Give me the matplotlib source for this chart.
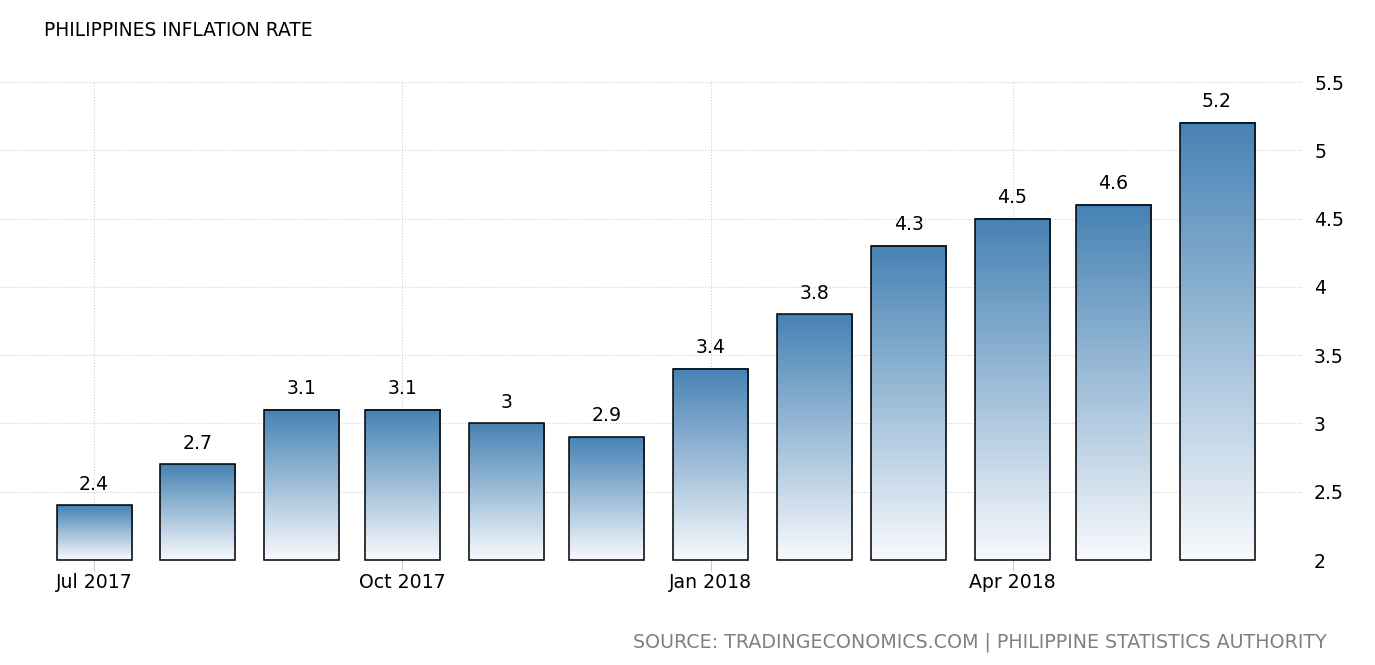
import matplotlib
matplotlib.use("Agg")
import matplotlib.pyplot as plt
import matplotlib.dates as mdates
import numpy as np
import pandas as pd

plt.rcParams['font.family'] = ['DejaVu Sans']

months = pd.date_range("2017-07-01", "2018-06-01", freq="MS")
values = [2.4, 2.7, 3.1, 3.1, 3, 2.9, 3.4, 3.8, 4.3, 4.5, 4.6, 5.2]
labels = ["2.4", "2.7", "3.1", "3.1", "3", "2.9", "3.4", "3.8", "4.3", "4.5", "4.6", "5.2"]
yticks = [2, 2.5, 3, 3.5, 4, 4.5, 5, 5.5]
ytick_labels = ["2", "2.5", "3", "3.5", "4", "4.5", "5", "5.5"]
xticks = pd.to_datetime(["2017-07-01", "2017-10-01", "2018-01-01", "2018-04-01"])
xtick_labels = ["Jul 2017", "Oct 2017", "Jan 2018", "Apr 2018"]

fig = plt.figure(figsize=(13.75, 6.65), dpi=100)
ax = fig.add_axes([0, 1 - 560 / 665, 1303 / 1375, (560 - 82) / 665])

x = mdates.date2num(months)
x0 = mdates.date2num(pd.Timestamp("2017-07-01"))
days_per_px = 335 / (1217 - 94)
bar_w = 75 * days_per_px

ax.grid(True, color="#cfcfcf", linestyle=(0, (1, 1.6)), linewidth=0.8)
ax.set_axisbelow(True)

# steelblue -> white gradient for each bar
cmap = matplotlib.colors.LinearSegmentedColormap.from_list("tebar", ["#4682b4", "#f8fafd"])
grad = np.linspace(0, 1, 256).reshape(-1, 1)
heights = [v - 2 for v in values]
ax.bar(x, heights, bottom=2, width=bar_w, facecolor="none", edgecolor="black", linewidth=1.1, zorder=4, clip_on=False)
for d, v, lab in zip(x, values, labels):
    ax.imshow(grad, cmap=cmap, aspect="auto", zorder=3,
              extent=[d - bar_w / 2, d + bar_w / 2, 2, v], origin="upper")
    ax.text(d, v + 0.085, lab, ha="center", va="bottom", fontsize=13.6, color="black", zorder=5)
ax.set_xlim(x0 - 94 * days_per_px, x0 + (1303 - 94) * days_per_px)
ax.set_ylim(2, 5.5)

ax.set_xticks(mdates.date2num(xticks))
ax.set_xticklabels(xtick_labels, fontsize=13.6)
ax.yaxis.tick_right()
ax.set_yticks(yticks)
ax.set_yticklabels(ytick_labels, fontsize=13.6)
ax.tick_params(axis="x", length=8, width=0.8, color="#cccccc", pad=1)
ax.tick_params(axis="y", length=0, pad=8)
for s in ax.spines.values():
    s.set_visible(False)

fig.text(44 / 1375, 1 - 31 / 665, "PHILIPPINES INFLATION RATE", fontsize=13.4, va="center", color="black")
fig.text(1327 / 1375, 1 - 642 / 665, "SOURCE: TRADINGECONOMICS.COM | PHILIPPINE STATISTICS AUTHORITY",
         fontsize=13.66, va="center", ha="right", color="#808080")

fig.savefig("out.png", dpi=100)
